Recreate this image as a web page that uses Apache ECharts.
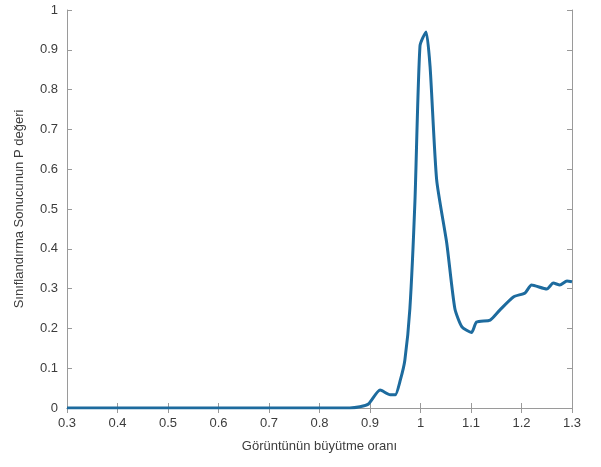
<!DOCTYPE html>
<html>
<head>
<meta charset="utf-8">
<script src="https://cdn.jsdelivr.net/npm/echarts@6/dist/echarts.min.js"></script>
<style>
	html, body { margin: 0; padding: 0; background: #fff; }
	#chart { width: 601px; height: 467px; }
</style>
</head>
<body>
<div id="chart"></div>
<script>
// büyütme oranı (x) ve P değeri (y)
var ratios = [0.3, 0.4, 0.5, 0.6, 0.7, 0.8, 0.86, 0.88, 0.897, 0.92, 0.94, 0.95, 0.96, 0.969, 0.979, 0.989, 0.999, 1.011, 1.019, 1.032, 1.052, 1.068, 1.082, 1.101, 1.111, 1.138, 1.157, 1.184, 1.207, 1.22, 1.25, 1.263, 1.276, 1.29, 1.3];
var pValues = [0, 0, 0, 0, 0, 0, 0, 0.003, 0.01, 0.045, 0.033, 0.033, 0.07, 0.12, 0.25, 0.52, 0.91, 0.945, 0.857, 0.573, 0.414, 0.25, 0.204, 0.19, 0.216, 0.221, 0.246, 0.279, 0.289, 0.309, 0.299, 0.314, 0.309, 0.319, 0.317];
var xTicks = { min: 0.3, max: 1.3, interval: 0.1 };
var yTicks = { min: 0, max: 1, interval: 0.1 };

var axisGray = '#9a9a9a';
var textGray = '#3c3c3c';

var chart = echarts.init(document.getElementById('chart'));
var points = ratios.map(function (r, i) { return [r, pValues[i]]; });

var boxAxis = function (extra) {
	return Object.assign({
		type: 'value',
		axisLine: { show: true, lineStyle: { color: axisGray, width: 1 } },
		axisTick: { show: true, inside: true, length: 5, lineStyle: { color: axisGray } },
		axisLabel: { show: false },
		splitLine: { show: false }
	}, extra);
};

chart.setOption({
	animation: false,
	grid: { left: 67, right: 29, top: 10, bottom: 59 },
	xAxis: [
		boxAxis({
			position: 'bottom',
			min: xTicks.min, max: xTicks.max, interval: xTicks.interval,
			name: 'Görüntünün büyütme oranı',
			nameLocation: 'middle',
			nameGap: 32,
			nameTextStyle: { color: textGray, fontSize: 13, fontFamily: 'Liberation Sans' },
			axisLabel: {
				show: true, color: textGray, fontSize: 13, margin: 9, fontFamily: 'Liberation Sans',
				formatter: function (v) { return +v.toFixed(1) + ''; }
			}
		}),
		boxAxis({ position: 'top', min: xTicks.min, max: xTicks.max, interval: xTicks.interval })
	],
	yAxis: [
		boxAxis({
			position: 'left',
			min: yTicks.min, max: yTicks.max, interval: yTicks.interval,
			name: 'Sınıflandırma Sonucunun P değeri',
			nameLocation: 'middle',
			nameGap: 41,
			nameTextStyle: { color: textGray, fontSize: 13, fontFamily: 'Liberation Sans' },
			axisLabel: {
				show: true, color: textGray, fontSize: 13, margin: 9, fontFamily: 'Liberation Sans',
				formatter: function (v) { return +v.toFixed(1) + ''; }
			}
		}),
		boxAxis({ position: 'right', min: yTicks.min, max: yTicks.max, interval: yTicks.interval })
	],
	series: [{
		type: 'line',
		data: points,
		showSymbol: false,
		smooth: 0.2,
		lineStyle: { color: '#1d6b9e', width: 3 },
		clip: true
	}]
});
</script>
</body>
</html>
